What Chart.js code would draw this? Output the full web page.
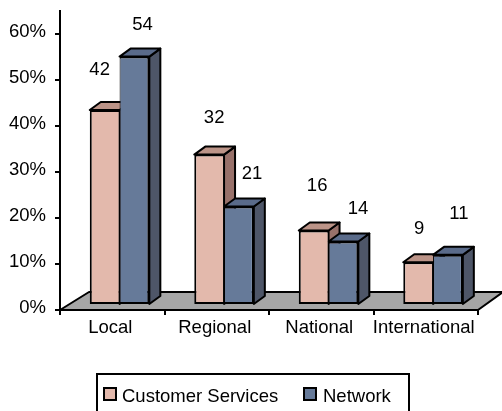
<!DOCTYPE html>
<html>
<head>
<meta charset="utf-8">
<style>
  html, body { margin: 0; padding: 0; background: #fff; }
  #wrap { width: 502px; height: 411px; }
</style>
<script src="https://cdn.jsdelivr.net/npm/chart.js@4"></script>
</head>
<body>
<div id="wrap"><canvas id="chart" width="502" height="411"></canvas></div>
<script>
const categories = ['Local', 'Regional', 'National', 'International'];
const customerServices = [42.4, 32.7, 16.2, 9.3];
const network = [54, 21.4, 13.8, 10.9];
const customerLabels = ['42', '32', '16', '9'];
const networkLabels = ['54', '21', '14', '11'];
const yTicks = [0, 10, 20, 30, 40, 50, 60];

const fontFamily = '"Liberation Sans", Arial, sans-serif';
const textFont = '18.5px ' + fontFamily;
const depth = { x: 11, y: 8 };        // bars' 3d depth
const front = { x: 7.3, y: -5 };      // front plane sits a bit inside the floor
const floor = { left: 29, right: 25, y: 18 };

// hand placed labels in the original: offset from the top of each bar
const customerNudge = [[-5, -40], [5, -37], [3.5, -45], [1, -33]];
const networkNudge = [[8, -32], [13, -33], [14.6, -33], [11, -41]];

const faces = [
  { top: '#bc9488', side: '#98716a' },
  { top: '#5a6b8a', side: '#4e5668' }
];

// legend layout: frame, then swatch and text start for each entry
const legendFrame = { left: 97, top: 374, right: 409, bottom: 413 };
const legendSwatchX = [104, 304];
const legendTextX = [122, 323];

const shape = (ctx, pts, fill) => {
  ctx.beginPath();
  pts.forEach((p, i) => i ? ctx.lineTo(p[0], p[1]) : ctx.moveTo(p[0], p[1]));
  ctx.closePath();
  ctx.fillStyle = fill;
  ctx.fill();
  ctx.stroke();
};

const threeD = {
  id: 'threeD',
  beforeDatasetsDraw(chart) {
    const { ctx, chartArea: a } = chart;
    ctx.save();
    ctx.lineWidth = 2;
    ctx.strokeStyle = '#000';
    ctx.lineJoin = 'round';
    shape(ctx, [
      [a.left, a.bottom], [a.right, a.bottom],
      [a.right + floor.right, a.bottom - floor.y], [a.left + floor.left, a.bottom - floor.y]
    ], '#a6a6a6');
    ctx.translate(front.x, front.y);
    // side and top faces, first series first so the second one covers it
    [0, 1].forEach(d => {
      chart.getDatasetMeta(d).data.forEach(bar => {
        const l = bar.x - bar.width / 2, r = bar.x + bar.width / 2;
        shape(ctx, [[r, bar.y], [r + depth.x, bar.y - depth.y], [r + depth.x, bar.base - depth.y], [r, bar.base]], faces[d].side);
        shape(ctx, [[l, bar.y], [l + depth.x, bar.y - depth.y], [r + depth.x, bar.y - depth.y], [r, bar.y]], faces[d].top);
      });
    });
    // keeps the translate for the chart's own bars, restored below
  },
  afterDatasetsDraw(chart) {
    const { ctx } = chart;
    ctx.restore();
    ctx.save();
    ctx.fillStyle = '#000';
    ctx.font = textFont;
    ctx.textAlign = 'center';
    ctx.textBaseline = 'middle';
    [[customerLabels, customerNudge], [networkLabels, networkNudge]].forEach(([labels, nudge], d) => {
      chart.getDatasetMeta(d).data.forEach((bar, i) => {
        ctx.fillText(labels[i], bar.x + front.x + nudge[i][0], bar.y + front.y + nudge[i][1]);
      });
    });
    ctx.restore();
  },
  afterDraw(chart) {
    const { ctx } = chart;
    const f = legendFrame;
    ctx.save();
    ctx.lineWidth = 2;
    ctx.strokeStyle = '#000';
    ctx.strokeRect(f.left, f.top, f.right - f.left, f.bottom - f.top);
    ctx.font = textFont;
    ctx.textBaseline = 'middle';
    chart.data.datasets.forEach((ds, i) => {
      ctx.fillStyle = ds.backgroundColor;
      ctx.fillRect(legendSwatchX[i], 388, 12, 12);
      ctx.strokeRect(legendSwatchX[i], 388, 12, 12);
      ctx.fillStyle = '#000';
      ctx.fillText(ds.label, legendTextX[i], 397);
    });
    ctx.restore();
  }
};

new Chart(document.getElementById('chart'), {
  type: 'bar',
  data: {
    labels: categories,
    datasets: [
      {
        label: 'Customer Services', data: customerServices, backgroundColor: '#e3b9ac', borderColor: '#000',
        borderWidth: { top: 2, left: 2, bottom: 2, right: 1 }, borderSkipped: false, clip: false
      },
      {
        label: 'Network', data: network, backgroundColor: '#667a99', borderColor: '#000',
        borderWidth: { top: 2, left: 1, bottom: 2, right: 2 }, borderSkipped: false, clip: false
      }
    ]
  },
  options: {
    responsive: false,
    animation: false,
    categoryPercentage: 0.57,
    barPercentage: 1,
    layout: { padding: { left: 0, right: 24, top: 11, bottom: 35 } },
    plugins: {
      tooltip: { enabled: false },
      legend: { display: false }
    },
    scales: {
      x: {
        afterFit: s => { s.height = 66; s.paddingLeft = 0; s.paddingRight = 0; },
        grid: { drawOnChartArea: false, tickLength: 5, tickColor: '#000', lineWidth: 2 },
        border: { color: '#000', width: 2 },
        ticks: { color: '#000', font: { family: fontFamily, size: 18.5 }, padding: 2, maxRotation: 0, autoSkip: false, labelOffset: -2 }
      },
      y: {
        min: 0,
        max: 65,
        afterFit: s => { s.width = 60; s.paddingTop = 0; s.paddingBottom = 0; },
        afterBuildTicks: s => { s.ticks = yTicks.map(value => ({ value })); },
        grid: { drawOnChartArea: false, tickLength: 5, tickColor: '#000', lineWidth: 2 },
        border: { color: '#000', width: 2 },
        ticks: { color: '#000', font: { family: fontFamily, size: 18.5 }, padding: 9, labelOffset: -2, callback: v => v + '%' }
      }
    }
  },
  plugins: [threeD]
});
</script>
</body>
</html>
